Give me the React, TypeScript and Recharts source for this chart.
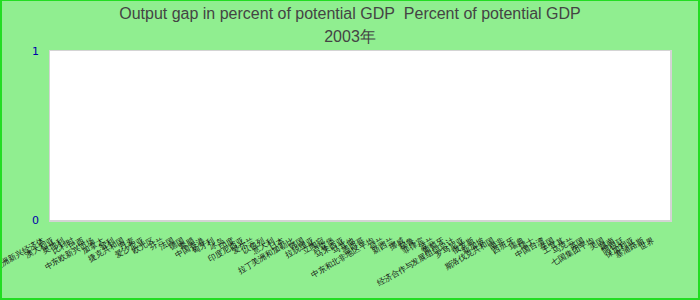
import { BarChart, Bar, XAxis, YAxis, CartesianGrid } from "recharts";

const countries = [
  "亚洲新兴经济体", "澳大利亚", "奥地利", "比利时", "巴西", "中东欧新兴市场",
  "加拿大", "智利", "捷克共和国", "丹麦", "爱沙尼亚", "欧元区",
  "芬兰", "法国", "德国", "希腊", "中国香港", "匈牙利",
  "冰岛", "印度", "印度尼西亚", "爱尔兰", "以色列", "意大利",
  "日本", "拉丁美洲和加勒比", "韩国", "拉脱维亚", "立陶宛", "卢森堡",
  "马来西亚", "马耳他", "墨西哥", "中东和北非地区平均", "荷兰", "新西兰",
  "挪威", "秘鲁", "菲律宾", "波兰", "葡萄牙", "经济合作与发展组织总计",
  "罗马尼亚", "俄罗斯", "新加坡", "斯洛伐克共和国", "南非", "西班牙",
  "瑞典", "瑞士", "中国台湾", "泰国", "土耳其", "乌克兰",
  "英国", "七国集团平均", "美国", "越南", "阿根廷", "保加利亚",
  "塞浦路斯", "世界",
];

// no values reported for 2003 in the source chart
const outputGap: (number | null)[] = [
  null, null, null, null, null, null, null, null, null, null,
  null, null, null, null, null, null, null, null, null, null,
  null, null, null, null, null, null, null, null, null, null,
  null, null, null, null, null, null, null, null, null, null,
  null, null, null, null, null, null, null, null, null, null,
  null, null, null, null, null, null, null, null, null, null,
  null, null,
];

const yTicks = [0, 1];

const data = countries.map((name, i) => ({ name, gap: outputGap[i] }));

function CountryTick(props: any) {
  const { x, y, payload } = props;
  return (
    <g transform={`translate(${x - 10},${y + 22})`}>
      <text
        x={0}
        y={0}
        textAnchor="end"
        transform="rotate(-30)"
        fontSize={8}
        fill="#111"
      >
        {payload.value}
      </text>
    </g>
  );
}

export default function App() {
  return (
    <div style={{ position: "absolute", left: 0, top: 0, width: 700, height: 300, background: "#90ee90", overflow: "hidden" }}>
      <div style={{ position: "absolute", left: 0, top: 2, width: 700, textAlign: "center", font: "16px 'Liberation Sans', Arial, sans-serif", lineHeight: "23px", color: "#444" }}>
        Output gap in percent of potential GDP&nbsp; Percent of potential GDP
      </div>
      <div style={{ position: "absolute", left: 0, top: 25, width: 700, textAlign: "center", font: "16px 'Liberation Sans', Arial, sans-serif", lineHeight: "23px", color: "#444" }}>
        2003年
      </div>
      <div style={{ position: "absolute", left: 49, top: 50, width: 623, height: 172, background: "#d4d4d4" }} />
      <div style={{ position: "absolute", left: 0, top: 0 }}>
        <BarChart width={700} height={300} data={data} margin={{ top: 51, right: 30, left: 0, bottom: 0 }}>
          <CartesianGrid fill="#fff" horizontal={false} vertical={false} />
          <XAxis
            dataKey="name"
            height={80}
            interval={0}
            axisLine={false}
            tickLine={false}
            tickSize={0}
            tickMargin={0}
            tick={<CountryTick />}
          />
          <YAxis
            type="number"
            width={50}
            domain={[0, 1]}
            allowDataOverflow
            ticks={yTicks}
            interval={0}
            axisLine={false}
            tickLine={false}
            tickSize={0}
            tickMargin={11}
            tick={{ fill: "#0000aa", fontSize: 11, fontFamily: "DejaVu Sans" }}
          />
          <Bar dataKey="gap" fill="#3366cc" isAnimationActive={false} />
        </BarChart>
      </div>
      <div style={{ position: "absolute", left: 0, top: 0, width: 700, height: 300, boxSizing: "border-box", borderStyle: "solid", borderColor: "#22dd22", borderWidth: "1px 2px 2px 2px", pointerEvents: "none" }} />
    </div>
  );
}
